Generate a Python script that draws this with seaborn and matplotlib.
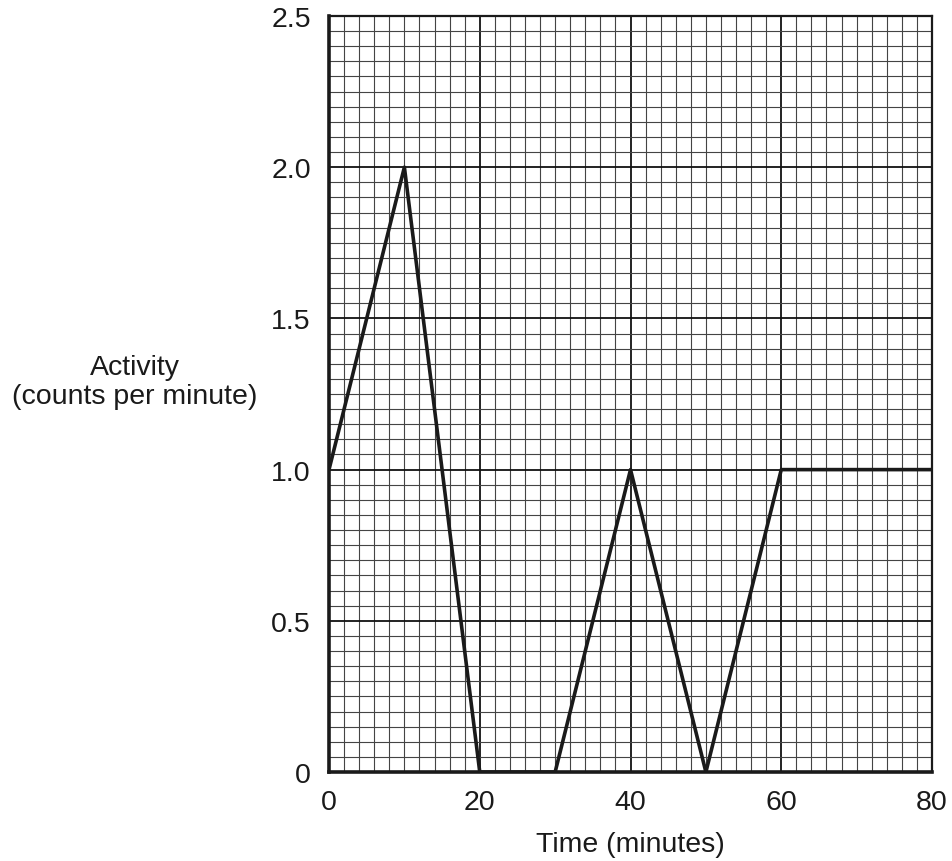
import numpy as np
import pandas as pd
import matplotlib
matplotlib.use("Agg")
import matplotlib.pyplot as plt
import seaborn as sns

time_min = [0, 10, 20, 30, 40, 50, 60, 80]
activity = [1.0, 2.0, 0.0, 0.0, 1.0, 0.0, 1.0, 1.0]
x_ticks = [0, 20, 40, 60, 80]
y_ticks = [0, 0.5, 1.0, 1.5, 2.0, 2.5]
y_tick_labels = ["0", "0.5", "1.0", "1.5", "2.0", "2.5"]

df = pd.DataFrame({"time": time_min, "activity": activity})

sns.set_style("white")
plt.rcParams["font.family"] = ["Liberation Sans", "DejaVu Sans"]

fig = plt.figure(figsize=(9.52, 8.62), dpi=100)
ax = fig.add_axes([0.3456, 0.1032, 0.6334, 0.8771])

# graph paper grid
for xv in np.arange(0, 81, 2):
    major = xv % 20 == 0
    ax.axvline(xv, color="#111111" if major else "#444444",
               lw=1.3 if major else 0.8, zorder=1)
for yv in np.arange(0, 2.5001, 0.05):
    major = abs(yv / 0.5 - round(yv / 0.5)) < 1e-6
    ax.axhline(yv, color="#111111" if major else "#444444",
               lw=1.3 if major else 0.8, zorder=1)

sns.lineplot(data=df, x="time", y="activity", ax=ax, color="#1a1a1a",
             lw=2.6, zorder=3)

ax.set_xlim(0, 80)
ax.set_ylim(0, 2.5)
ax.set_xticks(x_ticks)
ax.set_yticks(y_ticks)
ax.set_yticklabels(y_tick_labels)
ax.tick_params(axis="both", direction="out", length=10, width=2,
               labelsize=20.5, color="#1a1a1a", labelcolor="#1a1a1a")
ax.tick_params(axis="x", pad=2)
ax.tick_params(axis="y", pad=3)

for side in ["left", "bottom"]:
    ax.spines[side].set_linewidth(2.6)
    ax.spines[side].set_color("#1a1a1a")
for side in ["top", "right"]:
    ax.spines[side].set_linewidth(1.6)
    ax.spines[side].set_color("#1a1a1a")
    ax.spines[side].set_visible(True)

ax.set_xlabel("Time (minutes)", fontsize=20.5, color="#1a1a1a", labelpad=12)
ax.set_ylabel("")
fig.text(0.142, 0.556, "Activity\n(counts per minute)", ha="center",
         va="center", fontsize=20.5, color="#1a1a1a", linespacing=1.15)

fig.savefig("out.png", dpi=100)
